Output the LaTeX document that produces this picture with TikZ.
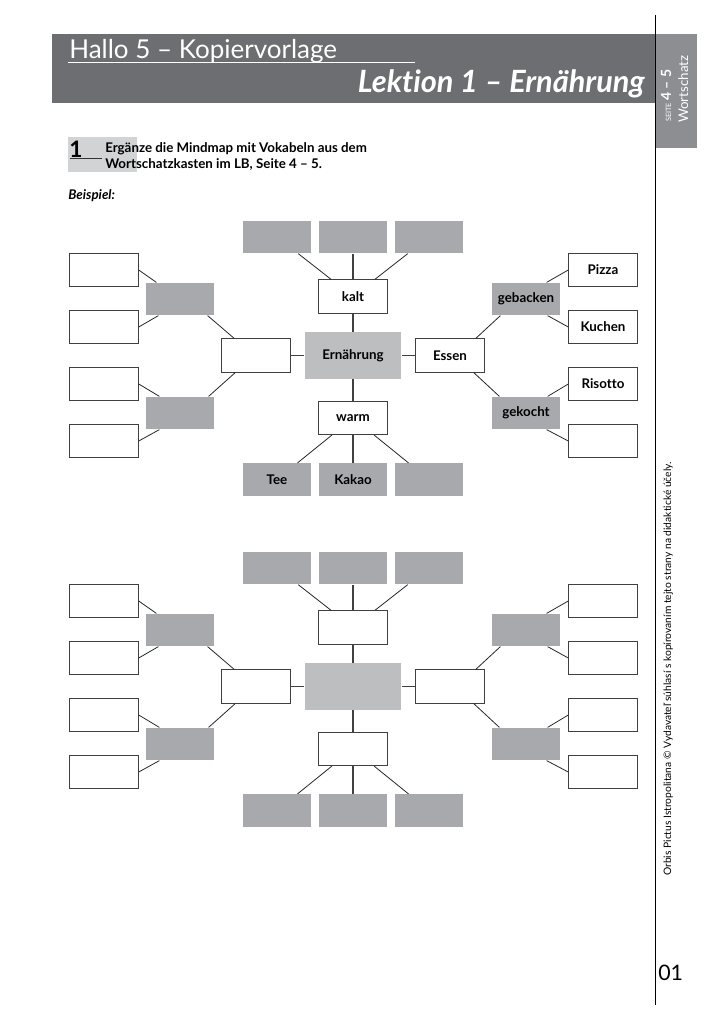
\documentclass[tikz,border=0pt]{standalone}
\usepackage{fontspec}
\setmainfont{Lato}[Ligatures=NoCommon]
\usetikzlibrary{calc}

\definecolor{bandgray}{RGB}{109,110,113}
\definecolor{tabgray}{RGB}{141,142,145}
\definecolor{boxgray}{RGB}{167,169,172}
\definecolor{midgray}{RGB}{189,190,192}
\definecolor{numgray}{RGB}{209,211,212}

% #1 name, #2 shift down, #3 top, #4 centre, #5 bottom, #6 right branch,
% #7 bottom row, #8 right grey boxes, #9 right leaves
\newcommand{\mindmap}[9]{%
  \begin{scope}[shift={(0,#2)}]
    \node[midbox] (#1-c) at (353,355.5) {#4};
    \node[wbox] (#1-top) at (353,296.5) {#3};
    \node[wbox] (#1-bot) at (353,418) {#5};
    \node[wbox] (#1-l) at (256,355.5) {};
    \node[wbox] (#1-r) at (450,355.5) {#6};
    \foreach \i in {1,2,3}
      \node[gbox] (#1-top-\i) at ({201+76*\i},237) {};
    \foreach \t [count=\i] in {#7}
      \node[gbox] (#1-bot-\i) at ({201+76*\i},479.5) {\t};
    \foreach \i in {1,2}
      \node[gbox] (#1-lg-\i) at (180,{185+114*\i}) {};
    \foreach \t [count=\i] in {#8}
      \node[gbox] (#1-rg-\i) at (526,{185+114*\i}) {\t};
    \foreach \i in {1,...,4}
      \node[wbox] (#1-ll-\i) at (104,{213+57*\i}) {};
    \foreach \t [count=\i] in {#9}
      \node[wbox] (#1-rl-\i) at (603,{213+57*\i}) {\t};
    % stems
    \draw[stem] (#1-top) -- (#1-c);
    \draw[stem] (#1-bot) -- (#1-c);
    \draw[stem] (#1-l) -- (#1-c);
    \draw[stem] (#1-r) -- (#1-c);
    \draw[stem] (#1-top) -- (#1-top-2);
    \draw[stem] (#1-bot) -- (#1-bot-2);
    \foreach \i in {1,3} {
      \draw[link] (#1-top) -- (#1-top-\i);
      \draw[link] (#1-bot) -- (#1-bot-\i);
    }
    % left side
    \draw[link] ($(#1-lg-1.south east)+(-7,0)$) -- ($(#1-l.north west)+(13,0)$);
    \draw[link] ($(#1-lg-2.north east)+(-6,0)$) -- ($(#1-l.south west)+(14,0)$);
    \draw[link] (#1-ll-1.east) -- ($(#1-lg-1.north west)+(11,0)$);
    \draw[link] (#1-ll-2.east) -- ($(#1-lg-1.south west)+(13,0)$);
    \draw[link] (#1-ll-3.east) -- ($(#1-lg-2.north west)+(14,0)$);
    \draw[link] (#1-ll-4.east) -- ($(#1-lg-2.south west)+(14,0)$);
    % right side
    \draw[link] ($(#1-r.north east)+(-9,0)$) -- ($(#1-rg-1.south west)+(9,0)$);
    \draw[link] ($(#1-r.south east)+(-11,0)$) -- ($(#1-rg-2.north west)+(8,0)$);
    \draw[link] ($(#1-rg-1.north east)+(-14,0)$) -- (#1-rl-1.west);
    \draw[link] ($(#1-rg-1.south east)+(-13,0)$) -- (#1-rl-2.west);
    \draw[link] ($(#1-rg-2.north east)+(-13,0)$) -- (#1-rl-3.west);
    \draw[link] ($(#1-rg-2.south east)+(-14,0)$) -- (#1-rl-4.west);
  \end{scope}%
}

\begin{document}
\begin{tikzpicture}[x=0.75pt, y=-0.75pt,
    every node/.style={inner sep=0pt},
    boxtext/.style={font=\bfseries\fontsize{10}{12}\selectfont},
    wbox/.style={boxtext, draw=black!75, line width=0.6pt, fill=white,
      minimum width=51.5pt, minimum height=25pt},
    gbox/.style={boxtext, fill=boxgray, minimum width=51.5pt, minimum height=24.5pt},
    midbox/.style={boxtext, fill=midgray, minimum width=72.5pt, minimum height=35.5pt},
    link/.style={black!85, line width=0.6pt},
    stem/.style={black!75, line width=1pt}]
  \useasboundingbox (0,0) rectangle (725,1024);

  % header
  \fill[bandgray] (52,34) rectangle (656,103);
  \fill[tabgray] (656,34) rectangle (697,148);
  \draw[black, line width=0.75pt] (655.5,15) -- (655.5,1005);
  \node[anchor=base west, text=white, font=\fontsize{19.5}{22}\selectfont] (title) at (69,59) {Hallo 5 – Kopiervorlage};
  \draw[white, line width=0.5pt] (68,62.5) -- (415,62.5);
  \node[anchor=base east, text=white, font=\bfseries\itshape\fontsize{23}{26}\selectfont] (lesson) at (645,93) {Lektion 1 – Ernährung};
  \node[rotate=90, anchor=base west, text=white, font=\fontsize{10.5}{11}\selectfont] (pages) at (671,122)
    {{\fontsize{5.5}{6}\selectfont SEITE}\,\textbf{4 – 5}};
  \node[rotate=90, anchor=base west, text=white, font=\fontsize{10}{11}\selectfont] (topic) at (688,123) {Wortschatz};

  % task
  \fill[numgray] (68,137) rectangle (137,172);
  \node[anchor=base west, font=\bfseries\fontsize{17}{18}\selectfont] (num) at (69,157) {1};
  \draw[black!80, line width=0.5pt] (70,158) -- (102,158);
  \node[anchor=base west, font=\bfseries\fontsize{10}{12}\selectfont] (task1) at (105,152) {Ergänze die Mindmap mit Vokabeln aus dem};
  \node[anchor=base west, font=\bfseries\fontsize{10}{12}\selectfont] (task2) at (105,168) {Wortschatzkasten im LB, Seite 4 – 5.};
  \node[anchor=base west, font=\bfseries\itshape\fontsize{10}{12}\selectfont] (example) at (68,199) {Beispiel:};

  % mind maps
  \mindmap{a}{0}{kalt}{Ernährung}{warm}{Essen}{Tee,Kakao,{}}{gebacken,gekocht}{Pizza,Kuchen,Risotto,{}}
  \mindmap{b}{331}{}{}{}{}{{},{},{}}{{},{}}{{},{},{},{}}

  % margin
  \node[rotate=90, anchor=base west, font=\fontsize{7.7}{8}\selectfont] (credit) at (671,876)
    {Orbis Pictus Istropolitana © Vydavateľ súhlasí s kopírovaním tejto strany na didaktické účely.};
  \node[anchor=base west, font=\fontsize{16}{18}\selectfont] (pageno) at (658,980) {01};
\end{tikzpicture}
\end{document}
